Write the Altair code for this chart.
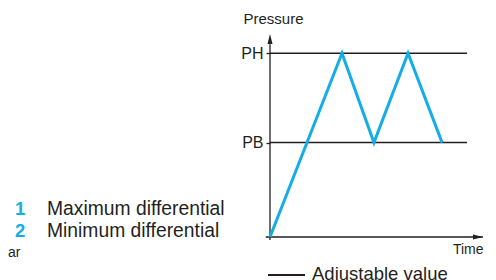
import altair as alt
import pandas as pd

# Pressure trace (time in arbitrary units 0-100, pressure in arbitrary units 0-100)
trace_time = [0, 33.8, 48.8, 64.8, 80.8]
trace_pressure = [0, 90.5, 46.5, 90.5, 46.5]

# Adjustable thresholds
level_names = ["PB", "PH"]
level_values = [46.5, 90.5]
level_end = 92.5

legend_numbers = ["1", "2"]
legend_labels = ["Maximum differential", "Minimum differential"]

BLUE = "#14ADE6"
INK = "#231F20"
FONT = "Liberation Sans"

xs = alt.Scale(domain=[0, 100], nice=False, zero=False)
ys = alt.Scale(domain=[0, 100], nice=False, zero=False)

trace_df = pd.DataFrame({"time": trace_time, "pressure": trace_pressure})
levels_df = pd.DataFrame({"name": level_names, "value": level_values,
                          "x0": [0] * len(level_values), "x1": [level_end] * len(level_values)})

label_expr = " : ".join(
    [f"datum.value == {v} ? '{n}'" for n, v in zip(level_names, level_values)] + ["''"]
)

base_y_axis = alt.Axis(
    values=level_values, labelExpr=label_expr, domain=False, grid=False,
    tickSize=4, tickColor=INK, tickWidth=1.3, labelFont=FONT, labelFontSize=16,
    labelColor=INK, labelPadding=3,
    title="Pressure", titleAngle=0, titleAlign="left", titleBaseline="alphabetic",
    titleX=-27, titleY=-11, titleFont=FONT, titleFontSize=15, titleFontWeight="normal",
    titleColor=INK,
)
base_x_axis = alt.Axis(
    domain=False, ticks=False, labels=False, grid=False,
    title="Time", titleAlign="right", titleBaseline="alphabetic",
    titleX=213, titleY=16, titleFont=FONT, titleFontSize=14, titleFontWeight="normal",
    titleColor=INK,
)

# axes lines (rules) with slight overshoot
axes_df = pd.DataFrame({
    "x": [0, -2.0], "x2": [0, 100], "y": [-1.5, 0], "y2": [95, 0]
})
axes = alt.Chart(axes_df).mark_rule(color=INK, strokeWidth=1.3).encode(
    x=alt.X("x:Q", scale=xs, axis=base_x_axis), x2="x2:Q",
    y=alt.Y("y:Q", scale=ys, axis=base_y_axis), y2="y2:Q",
)

levels = alt.Chart(levels_df).mark_rule(color=INK, strokeWidth=1.5).encode(
    x=alt.X("x0:Q", scale=xs), x2="x1:Q", y=alt.Y("value:Q", scale=ys)
)

trace = alt.Chart(trace_df).mark_line(
    color=BLUE, strokeWidth=3, strokeJoin="miter", strokeCap="butt"
).encode(
    x=alt.X("time:Q", scale=xs), y=alt.Y("pressure:Q", scale=ys)
)

arrow_up = alt.Chart(pd.DataFrame({"x": [0], "y": [100]})).mark_point(
    shape="M0,0L-0.25,1L0.25,1Z", filled=True, size=400, color=INK, opacity=1
).encode(x=alt.X("x:Q", scale=xs), y=alt.Y("y:Q", scale=ys))

arrow_right = alt.Chart(pd.DataFrame({"x": [100], "y": [0]})).mark_point(
    shape="M0,0L-1,-0.25L-1,0.25Z", filled=True, size=400, color=INK, opacity=1
).encode(x=alt.X("x:Q", scale=xs), y=alt.Y("y:Q", scale=ys))

# left legend (one row per entry)
legend_layers = []
for i, (num, lab) in enumerate(zip(legend_numbers, legend_labels)):
    row_y = 181 + 22 * i
    d = pd.DataFrame({"num": [num], "label": [lab]})
    legend_layers.append(alt.Chart(d).mark_text(
        font=FONT, fontSize=18.5, fontWeight="bold", color=BLUE, align="left",
        baseline="alphabetic"
    ).encode(x=alt.value(-255), y=alt.value(row_y), text="num:N"))
    legend_layers.append(alt.Chart(d).mark_text(
        font=FONT, fontSize=19.3, color=INK, align="left", baseline="alphabetic"
    ).encode(x=alt.value(-223), y=alt.value(row_y), text="label:N"))

ar_txt = alt.Chart(pd.DataFrame({"t": ["ar"]})).mark_text(
    font=FONT, fontSize=14, color=INK, align="left", baseline="alphabetic"
).encode(x=alt.value(-262), y=alt.value(223), text="t:N")

# bottom key: adjustable value
key_line = alt.Chart(pd.DataFrame({"a": [0]})).mark_rule(color=INK, strokeWidth=2).encode(
    x=alt.value(-2), x2=alt.value(35), y=alt.value(241)
)
key_txt = alt.Chart(pd.DataFrame({"t": ["Adjustable value"]})).mark_text(
    font=FONT, fontSize=18.5, color=INK, align="left", baseline="alphabetic"
).encode(x=alt.value(42), y=alt.value(245.5), text="t:N")

chart = alt.layer(
    axes, levels, trace, arrow_up, arrow_right, *legend_layers, ar_txt, key_line, key_txt
).properties(
    width=213, height=203,
    autosize=alt.AutoSizeParams(type="none"),
    padding={"left": 262, "top": 26, "right": 5, "bottom": 43},
).configure_view(strokeWidth=0)

chart.save("out.html", embed_options={"renderer": "svg", "actions": False})
